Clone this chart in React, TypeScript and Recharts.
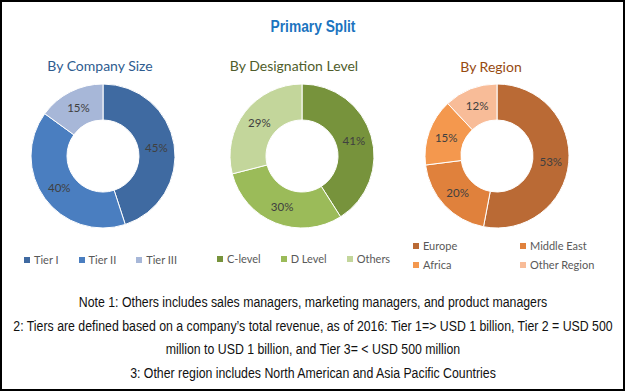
import React from "react";
import { PieChart, Pie, Cell } from "recharts";

const companyLabels = ["Tier I", "Tier II", "Tier III"];
const companyValues = [45, 40, 15];
const designationLabels = ["C-level", "D Level", "Others"];
const designationValues = [41, 30, 29];
const regionLabels = ["Europe", "Middle East", "Africa", "Other Region"];
const regionValues = [53, 20, 15, 12];

const notes = [
  "Note 1: Others includes sales managers, marketing managers, and product managers",
  "2: Tiers are defined based on a company\u2019s total revenue, as of 2016: Tier 1=> USD 1 billion, Tier 2 = USD 500",
  "million to USD 1 billion, and Tier 3= < USD 500 million",
  "3: Other region includes North American and Asia Pacific Countries",
];

const companyColors = ["#3F6AA1", "#4A7EC0", "#A7B7D8"];
const designationColors = ["#77933C", "#9BBB59", "#C3D69B"];
const regionColors = ["#BA6A35", "#E0813C", "#F4984E", "#F8BC98"];

const toRows = (labels: string[], values: number[]) =>
  labels.map((name, i) => ({ name, value: values[i] }));

const companyData = toRows(companyLabels, companyValues);
const designationData = toRows(designationLabels, designationValues);
const regionData = toRows(regionLabels, regionValues);

const RAD = Math.PI / 180;
const renderLabel = (p: any) => {
  const r = (p.innerRadius + p.outerRadius) / 2;
  const x = p.cx + r * Math.cos(-p.midAngle * RAD);
  const y = p.cy + r * Math.sin(-p.midAngle * RAD);
  return (
    <text
      x={x}
      y={y}
      textAnchor="middle"
      dominantBaseline="central"
      fill="#404040"
      fontSize={11.5}
      fontFamily="Lato, sans-serif"
    >
      {`${p.value}%`}
    </text>
  );
};

const sub: React.CSSProperties = {
  position: "absolute",
  fontFamily: "Lato, sans-serif",
  fontSize: 14,
  whiteSpace: "nowrap",
  transform: "translateX(-50%)",
  lineHeight: "16px",
};

const LegendItem = ({ color, label }: { color: string; label: string }) => (
  <div style={{ display: "flex", alignItems: "center", whiteSpace: "nowrap" }}>
    <div style={{ width: 6, height: 6, background: color, marginRight: 4 }} />
    <span style={{ fontFamily: "Lato, sans-serif", fontSize: 11, color: "#595959", lineHeight: "12px" }}>
      {label}
    </span>
  </div>
);

const pieCommon = {
  dataKey: "value",
  cy: 156,
  innerRadius: 36,
  outerRadius: 72,
  startAngle: 90,
  endAngle: -270,
  stroke: "#fff",
  strokeWidth: 1,
  label: renderLabel,
  labelLine: false,
  isAnimationActive: false,
};

export default function App() {
  return (
    <div
      style={{
        position: "absolute",
        left: 0,
        top: 0,
        width: 625,
        height: 391,
        background: "#fff",
        overflow: "hidden",
      }}
    >
      <div style={{ position: "absolute", left: 0, top: 0 }}>
        <PieChart width={625} height={391} margin={{ top: 0, right: 0, bottom: 0, left: 0 }}>
          <Pie data={companyData} cx={103} {...pieCommon}>
            {companyData.map((d, i) => (
              <Cell key={d.name} fill={companyColors[i]} />
            ))}
          </Pie>
          <Pie data={designationData} cx={302} {...pieCommon}>
            {designationData.map((d, i) => (
              <Cell key={d.name} fill={designationColors[i]} />
            ))}
          </Pie>
          <Pie data={regionData} cx={497} {...pieCommon}>
            {regionData.map((d, i) => (
              <Cell key={d.name} fill={regionColors[i]} />
            ))}
          </Pie>
        </PieChart>
      </div>

      <div
        style={{
          position: "absolute",
          left: 313,
          top: 18,
          transform: "translateX(-50%) scaleX(0.86)",
          fontFamily: "'Liberation Sans', Arial, sans-serif",
          fontWeight: "bold",
          fontSize: 16,
          color: "#1B74BF",
          whiteSpace: "nowrap",
          lineHeight: "18px",
        }}
      >
        Primary Split
      </div>

      <div style={{ ...sub, left: 100, top: 58, color: "#2E5C8F" }}>By Company Size</div>
      <div style={{ ...sub, left: 294, top: 58, color: "#4F5D2B" }}>By Designation Level</div>
      <div style={{ ...sub, left: 491, top: 59, color: "#974A10" }}>By Region</div>

      <div style={{ position: "absolute", left: 24, top: 254, display: "flex", gap: 20 }}>
        {companyLabels.map((l, i) => (
          <LegendItem key={l} color={companyColors[i]} label={l} />
        ))}
      </div>
      <div style={{ position: "absolute", left: 217, top: 253, display: "flex", gap: 20 }}>
        {designationLabels.map((l, i) => (
          <LegendItem key={l} color={designationColors[i]} label={l} />
        ))}
      </div>
      <div
        style={{
          position: "absolute",
          left: 413,
          top: 240,
          display: "grid",
          gridTemplateColumns: "107px 100px",
          rowGap: 7,
        }}
      >
        {regionLabels.map((l, i) => (
          <LegendItem key={l} color={regionColors[i]} label={l} />
        ))}
      </div>

      {notes.map((n, i) => (
        <div
          key={i}
          style={{
            position: "absolute",
            left: 313,
            top: 293 + i * 23.7,
            transform: "translateX(-50%) scaleX(0.88)",
            fontFamily: "'Liberation Sans', Arial, sans-serif",
            fontSize: 14,
            color: "#111",
            whiteSpace: "nowrap",
            lineHeight: "18px",
          }}
        >
          {n}
        </div>
      ))}

      <div
        style={{
          position: "absolute",
          left: 0,
          top: 0,
          width: 625,
          height: 391,
          boxSizing: "border-box",
          border: "2px solid #000",
          pointerEvents: "none",
        }}
      />
    </div>
  );
}
